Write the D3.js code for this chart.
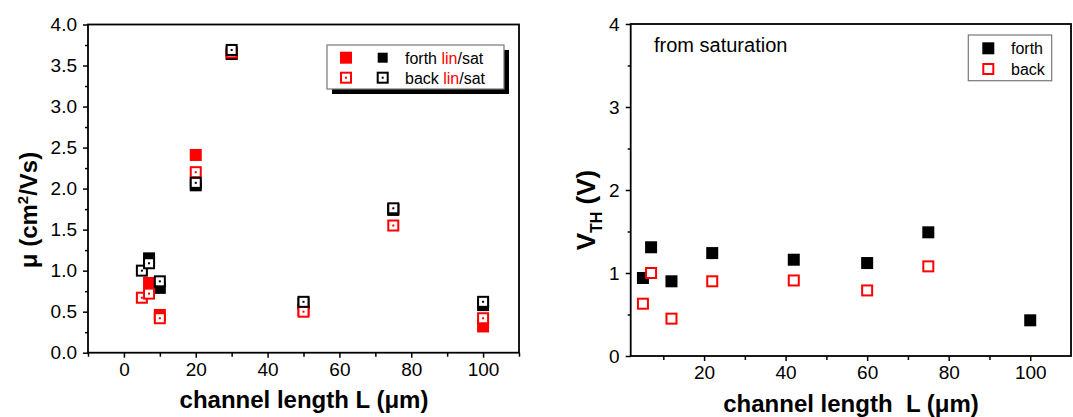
<!DOCTYPE html>
<html lang="en">
<head>
<meta charset="UTF-8" />
<title>mobility and threshold vs channel length</title>
<script src="https://d3js.org/d3.v7.min.js"></script>
<style>
  body { margin: 0; background: #fff; }
  svg { display: block; font-family: "Liberation Sans", Arial, sans-serif; }
</style>
</head>
<body>
<script>
// left panel: mobility (cm2/Vs) vs channel length
const forthLinL = [7, 10, 20, 30, 50, 75, 100];
const forthLin  = [0.85, 0.46, 2.41, 3.65, 0.52, 1.75, 0.32];
const forthSatL = [7, 10, 20, 30, 50, 75, 100];
const forthSat  = [1.15, 0.79, 2.04, 3.64, 0.60, 1.74, 0.58];
const backLinL  = [5, 7, 10, 20, 30, 50, 75, 100];
const backLin   = [0.67, 0.72, 0.42, 2.20, 3.66, 0.50, 1.55, 0.42];
const backSatL  = [5, 7, 10, 20, 30, 50, 75, 100];
const backSat   = [1.00, 1.09, 0.87, 2.07, 3.69, 0.62, 1.76, 0.62];
const muTicks = [0, 0.5, 1, 1.5, 2, 2.5, 3, 3.5, 4];
const lTicksLeft = [0, 20, 40, 60, 80, 100];

// right panel: threshold voltage from saturation
const vthL      = [5, 7, 12, 22, 42, 60, 75, 100];
const vthForth  = [0.94, 1.31, 0.90, 1.24, 1.16, 1.12, 1.49, 0.43];
const vthBackL  = [5, 7, 12, 22, 42, 60, 75];
const vthBack   = [0.63, 1.00, 0.45, 0.90, 0.91, 0.79, 1.08];
const vthTicks = [0, 1, 2, 3, 4];
const lTicksRight = [20, 40, 60, 80, 100];

const W = 1073, H = 417;
const svg = d3.select("body").append("svg").attr("width", W).attr("height", H);

const ms = 12; // marker size

function frame(g, x, y, xTicks, xMinor, yTicks, yMinor, fmt) {
  const [x0, x1] = x.range(), [y0, y1] = y.range();
  g.append("rect").attr("x", x0).attr("y", y1).attr("width", x1 - x0).attr("height", y0 - y1)
    .attr("fill", "none").attr("stroke", "#000").attr("stroke-width", 1.8);
  const xg = g.append("g").attr("transform", `translate(0,${y0})`)
    .call(d3.axisBottom(x).tickValues(xTicks).tickSize(5).tickPadding(5).tickFormat(d3.format("d")));
  const xm = g.append("g").attr("transform", `translate(0,${y0})`)
    .call(d3.axisBottom(x).tickValues(xMinor).tickSize(4).tickFormat(""));
  const yg = g.append("g").attr("transform", `translate(${x0},0)`)
    .call(d3.axisLeft(y).tickValues(yTicks).tickSize(5).tickPadding(6).tickFormat(fmt));
  const ym = g.append("g").attr("transform", `translate(${x0},0)`)
    .call(d3.axisLeft(y).tickValues(yMinor).tickSize(3).tickFormat(""));
  [xg, xm, yg, ym].forEach(a => {
    a.select(".domain").remove();
    a.selectAll("line").attr("stroke", "#000").attr("stroke-width", 1.5);
    a.selectAll("text").attr("fill", "#000").style("font-size", "19px")
      .style("font-family", "'Liberation Sans', Arial, sans-serif");
  });
}

function filled(g, xs, ys, x, y, color) {
  g.append("g").selectAll("rect").data(xs).join("rect")
    .attr("x", (d, i) => x(d) - ms / 2).attr("y", (d, i) => y(ys[i]) - ms / 2)
    .attr("width", ms).attr("height", ms).attr("fill", color);
}

function open(g, xs, ys, x, y, color, dot) {
  const s = g.append("g").selectAll("g").data(xs).join("g")
    .attr("transform", (d, i) => `translate(${x(d)},${y(ys[i])})`);
  s.append("rect").attr("x", -ms / 2 + 1).attr("y", -ms / 2 + 1)
    .attr("width", ms - 2).attr("height", ms - 2)
    .attr("fill", "#fff").attr("stroke", color).attr("stroke-width", 2);
  if (dot) s.append("rect").attr("x", -1).attr("y", -1).attr("width", 2).attr("height", 2).attr("fill", color);
}

// ---------- left panel ----------
const xL = d3.scaleLinear().domain([-10, 110]).range([88, 519]);
const yL = d3.scaleLinear().domain([0, 4]).range([352.7, 24.5]);
const gL = svg.append("g");
frame(gL, xL, yL, lTicksLeft, [-10, 10, 30, 50, 70, 90, 110],
  muTicks, [0.25, 0.75, 1.25, 1.75, 2.25, 2.75, 3.25, 3.75], d3.format(".1f"));

filled(gL, forthLinL, forthLin, xL, yL, "#ff0000");
filled(gL, forthSatL, forthSat, xL, yL, "#000");
open(gL, backLinL, backLin, xL, yL, "#ff0000", true);
open(gL, backSatL, backSat, xL, yL, "#000", true);

gL.append("text").attr("x", 304).attr("y", 408).attr("text-anchor", "middle")
  .style("font-size", "24px").style("font-weight", "bold")
  .text("channel length L (\u03bcm)");
const ylab = gL.append("text").attr("transform", "translate(37,210) rotate(-90)")
  .attr("text-anchor", "middle").style("font-size", "24px").style("font-weight", "bold");
ylab.append("tspan").text("\u03bc (cm");
ylab.append("tspan").attr("dy", -9).style("font-size", "15px").text("2");
ylab.append("tspan").attr("dy", 9).text("/Vs)");

// legend left
const lg = gL.append("g");
lg.append("rect").attr("x", 332).attr("y", 50).attr("width", 177).attr("height", 44).attr("fill", "#000");
lg.append("rect").attr("x", 327).attr("y", 45).attr("width", 177).attr("height", 44)
  .attr("fill", "#fff").attr("stroke", "#777").attr("stroke-width", 1.2);
const legRows = [["forth", 57.7, false], ["back", 77.7, true]];
legRows.forEach(([name, yy, isOpen]) => {
  if (isOpen) {
    open(lg, [346], [yy], d => d, d => d, "#ff0000", true);
    open(lg, [382.7], [yy], d => d, d => d, "#000", true);
  } else {
    filled(lg, [346], [yy], d => d, d => d, "#ff0000");
    lg.append("rect").attr("x", 382.7 - 5).attr("y", yy - 5).attr("width", 10).attr("height", 10).attr("fill", "#000");
  }
  const t = lg.append("text").attr("x", 405).attr("y", yy + 6).style("font-size", "16px");
  t.append("tspan").text(name + " ");
  t.append("tspan").attr("fill", "#ff0000").text("lin");
  t.append("tspan").text("/sat");
});

// ---------- right panel ----------
const xR = d3.scaleLinear().domain([2, 110]).range([630.7, 1071]);
const yR = d3.scaleLinear().domain([0, 4]).range([356, 24]);
const gR = svg.append("g");
frame(gR, xR, yR, lTicksRight, [10, 30, 50, 70, 90],
  vthTicks, [0.5, 1.5, 2.5, 3.5], d3.format("d"));

filled(gR, vthL, vthForth, xR, yR, "#000");
open(gR, vthBackL, vthBack, xR, yR, "#ff0000", false);

gR.append("text").attr("x", 654).attr("y", 52).style("font-size", "20px").text("from saturation");

gR.append("text").attr("x", 851).attr("y", 412).attr("text-anchor", "middle")
  .style("font-size", "24px").style("font-weight", "bold").style("white-space", "pre")
  .text("channel length  L (\u03bcm)");
const vlab = gR.append("text").attr("transform", "translate(595,210) rotate(-90)")
  .attr("text-anchor", "middle").style("font-size", "26px").style("font-weight", "bold");
vlab.append("tspan").text("V");
vlab.append("tspan").attr("dy", 7).style("font-size", "16px").text("TH");
vlab.append("tspan").attr("dy", -7).text(" (V)");

// legend right
const rg = gR.append("g");
rg.append("rect").attr("x", 968.3).attr("y", 35).attr("width", 83.4).attr("height", 45.7)
  .attr("fill", "#fff").attr("stroke", "#777").attr("stroke-width", 1.2);
filled(rg, [988.3], [48.3], d => d, d => d, "#000");
open(rg, [988.3], [69], d => d, d => d, "#ff0000", false);
rg.append("text").attr("x", 1011).attr("y", 54).style("font-size", "16px").text("forth");
rg.append("text").attr("x", 1011).attr("y", 75).style("font-size", "16px").text("back");
</script>
</body>
</html>
